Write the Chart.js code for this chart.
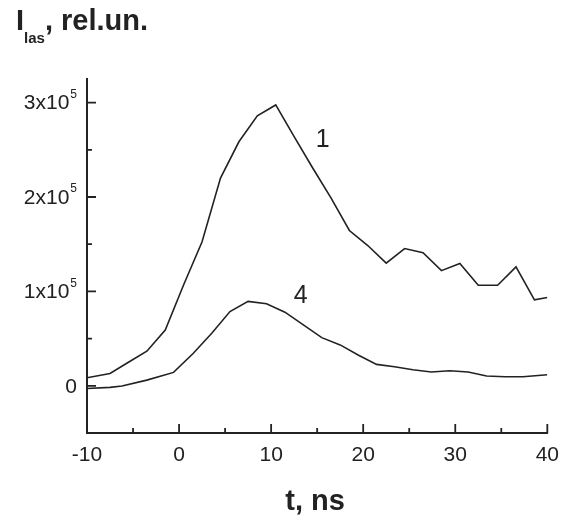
<!DOCTYPE html>
<html>
<head>
<meta charset="utf-8">
<script src="https://cdn.jsdelivr.net/npm/chart.js@4/dist/chart.umd.min.js"></script>
<style>
  html, body { margin: 0; padding: 0; background: #fff; }
  canvas { display: block; }
</style>
</head>
<body>
<canvas id="c" width="569" height="516"></canvas>
<script>
// curve 1: time (ns) and laser intensity (rel. units)
var T1 = [-10, -7.5, -5.5, -3.5, -1.5, 0.5, 2.5, 4.5, 6.5, 8.5, 10.5, 12.5, 14.5, 16.5, 18.5, 20.5, 22.5, 24.5, 26.5, 28.5, 30.5, 32.5, 34.6, 36.6, 38.6, 40];
var I1 = [8500, 13000, 25000, 36600, 59000, 107000, 152500, 220000, 258500, 286000, 297500, 264000, 231000, 199000, 164500, 148600, 130000, 145400, 141000, 122000, 129500, 106500, 106500, 126000, 91000, 93600];
// curve 4
var T4 = [-10, -7.5, -6.2, -3.5, -0.6, 1.55, 3.55, 5.53, 7.5, 9.5, 11.5, 13.5, 15.5, 17.5, 19.45, 21.45, 23.4, 25.4, 27.4, 29.4, 31.4, 33.4, 35.4, 37.35, 40];
var I4 = [-2800, -1700, -300, 6000, 14200, 34500, 55700, 78700, 89400, 86900, 78000, 64600, 51000, 43300, 32700, 22700, 20200, 17000, 14600, 16000, 14600, 10300, 9600, 9600, 11700];

var X_MAJOR = [-10, 0, 10, 20, 30, 40];
var X_MINOR = [-5, 5, 15, 25, 35];
var Y_MAJOR = [0, 100000, 200000, 300000];
var Y_MINOR = [50000, 150000, 250000];
var Y_TICK_TEXT = ["0", "1x10", "2x10", "3x10"];
var Y_TICK_EXP = ["", "5", "5", "5"];

var CURVE_NAMES = ["1", "4"];
var CURVE_NAME_X = [15.6, 13.2];
var CURVE_NAME_Y = [260000, 95500];

var INK = "#222";
var FONT = "'Liberation Sans', Arial, sans-serif";

function pts(xs, ys) {
  return xs.map(function (x, i) { return { x: x, y: ys[i] }; });
}

var decor = {
  id: "decor",
  afterDraw: function (chart) {
    var ctx = chart.ctx, xs = chart.scales.x, ys = chart.scales.y;
    var L = xs.left, B = ys.bottom;
    ctx.save();
    ctx.strokeStyle = INK;
    ctx.lineWidth = 1.8;
    ctx.beginPath();
    X_MAJOR.forEach(function (v) { var p = xs.getPixelForValue(v); ctx.moveTo(p, B); ctx.lineTo(p, B - 9); });
    X_MINOR.forEach(function (v) { var p = xs.getPixelForValue(v); ctx.moveTo(p, B); ctx.lineTo(p, B - 5); });
    Y_MAJOR.forEach(function (v) { var p = ys.getPixelForValue(v); ctx.moveTo(L, p); ctx.lineTo(L + 9, p); });
    Y_MINOR.forEach(function (v) { var p = ys.getPixelForValue(v); ctx.moveTo(L, p); ctx.lineTo(L + 5, p); });
    ctx.stroke();

    ctx.fillStyle = INK;
    // y tick labels with superscript exponent
    ctx.textBaseline = "middle";
    Y_MAJOR.forEach(function (v, i) {
      var p = ys.getPixelForValue(v) + 1;
      var right = L - 10;
      ctx.font = "12px " + FONT;
      var ew = Y_TICK_EXP[i] ? ctx.measureText(Y_TICK_EXP[i]).width + 1 : 0;
      if (Y_TICK_EXP[i]) { ctx.textAlign = "left"; ctx.fillText(Y_TICK_EXP[i], right - ew + 1, p - 9); }
      ctx.font = "21px " + FONT;
      ctx.textAlign = "right";
      ctx.fillText(Y_TICK_TEXT[i], right - ew, p);
    });

    // curve names
    ctx.font = "25px " + FONT;
    ctx.textAlign = "center";
    CURVE_NAMES.forEach(function (s, i) {
      ctx.fillText(s, xs.getPixelForValue(CURVE_NAME_X[i]), ys.getPixelForValue(CURVE_NAME_Y[i]));
    });

    // axis titles
    ctx.textBaseline = "alphabetic";
    ctx.textAlign = "center";
    ctx.font = "bold 29px " + FONT;
    ctx.fillText("t, ns", (xs.left + xs.right) / 2 - 2, 510);

    ctx.textAlign = "left";
    var x = 16;
    ctx.fillText("I", x, 30);
    x += ctx.measureText("I").width;
    ctx.font = "bold 15px " + FONT;
    ctx.fillText("las", x, 43);
    x += ctx.measureText("las").width;
    ctx.font = "bold 29px " + FONT;
    ctx.fillText(", rel.un.", x, 30);
    ctx.restore();
  }
};

new Chart(document.getElementById("c"), {
  type: "scatter",
  data: {
    datasets: [
      { label: "1", data: pts(T1, I1) },
      { label: "4", data: pts(T4, I4) }
    ]
  },
  options: {
    responsive: false,
    animation: false,
    showLine: true,
    layout: { padding: { top: 79, right: 21, left: 0, bottom: 0 } },
    elements: {
      line: { borderColor: INK, borderWidth: 1.6, tension: 0, fill: false },
      point: { radius: 0, hoverRadius: 0 }
    },
    plugins: { legend: { display: false }, tooltip: { enabled: false } },
    scales: {
      x: {
        type: "linear", min: -10, max: 40,
        afterFit: function (s) { s.height = 83; },
        grid: { display: false, drawTicks: false },
        border: { display: true, color: INK, width: 2 },
        ticks: {
          stepSize: 10, autoSkip: false, maxRotation: 0, padding: 10,
          color: INK, font: { family: FONT, size: 21 }
        }
      },
      y: {
        type: "linear", min: -50000, max: 325000,
        afterFit: function (s) { s.width = 87; },
        grid: { display: false, drawTicks: false },
        border: { display: true, color: INK, width: 2 },
        ticks: { display: false }
      }
    }
  },
  plugins: [decor]
});
</script>
</body>
</html>
